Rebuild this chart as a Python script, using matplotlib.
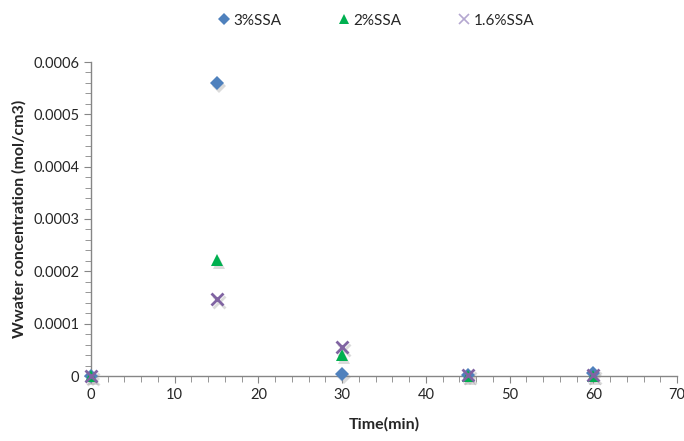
import matplotlib
matplotlib.use("Agg")
import matplotlib.pyplot as plt
from matplotlib.ticker import MultipleLocator, FuncFormatter

plt.rcParams["font.family"] = ["Lato", "DejaVu Sans"]

# Data
time_min = [0, 15, 30, 45, 60]
ssa_3 = [0.0, 0.00056, 0.000003, 0.000002, 0.000005]
ssa_2 = [0.0, 0.000222, 0.00004, 0.0, 0.0]
ssa_16 = [0.0, 0.000147, 0.000055, 0.000002, 0.000002]
series_labels = ["3%SSA", "2%SSA", "1.6%SSA"]

# Styles
colors = ["#4F81BD", "#00B050", "#8064A2"]
markers = ["D", "^", "x"]
sizes = [7, 8, 8]
axis_color = "#868686"

fig = plt.figure(figsize=(6.84, 4.41), dpi=100)
ax = fig.add_axes([91 / 684, 1 - 376 / 441, (677 - 91) / 684, (376 - 62) / 441])

shadow = ax.transData + matplotlib.transforms.ScaledTranslation(1.5 / 72, -2 / 72, fig.dpi_scale_trans)
for ys, lab, c, m, s in zip([ssa_3, ssa_2, ssa_16], series_labels, colors, markers, sizes):
    # soft shadow like the Excel marker effect
    ax.plot(time_min, ys, linestyle="none", marker=m, markersize=s,
            color="#999999", alpha=0.35, markeredgewidth=2 if m == "x" else 0,
            transform=shadow, zorder=2, clip_on=False)
    ax.plot(time_min, ys, linestyle="none", marker=m, markersize=s, color=c,
            markeredgewidth=2 if m == "x" else 0, label=lab, zorder=3, clip_on=False)

ax.set_xlim(0, 70)
ax.set_ylim(0, 0.0006)
ax.xaxis.set_major_locator(MultipleLocator(10))
ax.xaxis.set_minor_locator(MultipleLocator(2))
ax.yaxis.set_major_locator(MultipleLocator(0.0001))
ax.yaxis.set_minor_locator(MultipleLocator(0.00002))
ax.yaxis.set_major_formatter(FuncFormatter(lambda v, p: "0" if v == 0 else f"{v:.4f}"))

for side in ["top", "right"]:
    ax.spines[side].set_visible(False)
for side in ["left", "bottom"]:
    ax.spines[side].set_color(axis_color)
    ax.spines[side].set_linewidth(1)

ax.tick_params(which="major", direction="out", length=5, color=axis_color,
               labelsize=10.5, labelcolor="#262626")
ax.tick_params(which="minor", direction="out", length=4, color=axis_color)

ax.set_xlabel("Time(min)", fontsize=11.5, fontweight="bold", color="#262626", labelpad=11)
ax.set_ylabel("Wwater concentration (mol/cm3)", fontsize=11.5, fontweight="bold",
              color="#262626", labelpad=5)

leg = fig.legend(loc="upper center", bbox_to_anchor=(0.548, 1.0), ncol=3, frameon=False,
                 fontsize=11, handletextpad=0.1, columnspacing=3.5, handlelength=1.1,
                 labelcolor="#262626", markerscale=0.85)
# thinner, lighter cross in the legend
leg.legend_handles[2].set_markeredgewidth(1.2)
leg.legend_handles[2].set_color("#B4A7D0")

fig.savefig("out.png", dpi=100)
